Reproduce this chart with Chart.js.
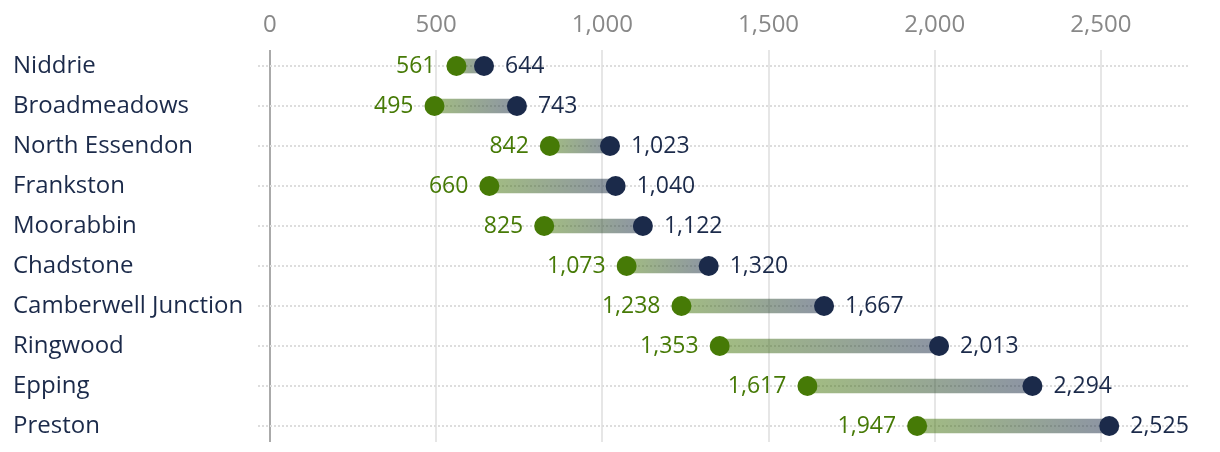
<!DOCTYPE html>
<html>
<head>
<meta charset="utf-8">
<script src="https://cdn.jsdelivr.net/npm/chart.js@4.4.1/dist/chart.umd.min.js"></script>
<style>
  html, body { margin: 0; padding: 0; background: #fff; }
  #wrap { width: 1220px; height: 452px; }
</style>
</head>
<body>
<div id="wrap"><canvas id="chart"></canvas></div>
<script>
const categories = ['Niddrie', 'Broadmeadows', 'North Essendon', 'Frankston', 'Moorabbin',
  'Chadstone', 'Camberwell Junction', 'Ringwood', 'Epping', 'Preston'];
const startValues = [561, 495, 842, 660, 825, 1073, 1238, 1353, 1617, 1947];
const endValues = [644, 743, 1023, 1040, 1122, 1320, 1667, 2013, 2294, 2525];
const xTicks = [0, 500, 1000, 1500, 2000, 2500];

const GREEN = '#467a06';
const NAVY = '#1b2a4a';
const FONT = '"Open Sans"';

// labels next to each end point
const valueLabels = {
  id: 'valueLabels',
  afterDatasetsDraw(chart) {
    const { ctx } = chart;
    ctx.save();
    ctx.font = `23px ${FONT}`;
    ctx.textBaseline = 'middle';
    [1, 2].forEach(di => {
      const meta = chart.getDatasetMeta(di);
      const vals = di === 1 ? startValues : endValues;
      meta.data.forEach((pt, i) => {
        const txt = vals[i].toLocaleString('en-US');
        if (di === 1) {
          ctx.fillStyle = GREEN;
          ctx.textAlign = 'right';
          ctx.fillText(txt, pt.x - 21, pt.y);
        } else {
          ctx.fillStyle = NAVY;
          ctx.textAlign = 'left';
          ctx.fillText(txt, pt.x + 21, pt.y);
        }
      });
    });
    ctx.restore();
  }
};

new Chart(document.getElementById('chart'), {
  data: {
    datasets: [
      {
        type: 'bar',
        indexAxis: 'y',
        data: categories.map((c, i) => ({ y: i, x: [startValues[i], endValues[i]] })),
        barThickness: 14,
        borderSkipped: false,
        backgroundColor: (ctx) => {
          const chart = ctx.chart;
          if (!chart.chartArea || ctx.dataIndex === undefined) return 'rgba(120,140,120,0.5)';
          const xs = chart.scales.x;
          const x0 = xs.getPixelForValue(startValues[ctx.dataIndex]);
          const x1 = xs.getPixelForValue(endValues[ctx.dataIndex]);
          const g = chart.ctx.createLinearGradient(x0, 0, x1, 0);
          g.addColorStop(0, 'rgba(70,122,6,0.5)');
          g.addColorStop(1, 'rgba(27,42,74,0.5)');
          return g;
        },
        order: 3
      },
      {
        type: 'line',
        showLine: false,
        data: categories.map((c, i) => ({ x: startValues[i], y: i })),
        pointRadius: 10,
        pointHoverRadius: 10,
        pointBackgroundColor: GREEN,
        pointBorderWidth: 0,
        order: 2
      },
      {
        type: 'line',
        showLine: false,
        data: categories.map((c, i) => ({ x: endValues[i], y: i })),
        pointRadius: 10,
        pointHoverRadius: 10,
        pointBackgroundColor: NAVY,
        pointBorderWidth: 0,
        order: 1
      }
    ]
  },
  options: {
    responsive: true,
    maintainAspectRatio: false,
    animation: false,
    layout: { padding: { left: 13, right: 32, top: 0, bottom: 10 } },
    plugins: {
      legend: { display: false },
      tooltip: { enabled: false }
    },
    scales: {
      x: {
        type: 'linear',
        position: 'top',
        min: -36,
        max: 2762,
        afterBuildTicks: (scale) => { scale.ticks = xTicks.map(v => ({ value: v })); },
        afterFit: (scale) => { scale.height = 50; },
        border: { display: false },
        grid: {
          drawTicks: false,
          lineWidth: 2,
          color: (ctx) => (ctx.tick && ctx.tick.value === 0 ? '#aaaaaa' : '#e6e6e6')
        },
        ticks: {
          padding: 10,
          color: '#888888',
          font: { family: FONT, size: 24 },
          callback: (v) => v.toLocaleString('en-US')
        }
      },
      y: {
        type: 'linear',
        reverse: true,
        offset: false,
        min: -0.4,
        max: 9.4,
        afterBuildTicks: (scale) => { scale.ticks = categories.map((c, i) => ({ value: i })); },
        afterFit: (scale) => {
          scale.width = 245;
          scale.paddingTop = 0;
          scale.paddingBottom = 0;
        },
        border: { display: false, dash: [2, 2] },
        grid: {
          offset: false,
          drawTicks: false,
          lineWidth: 2,
          color: '#dddddd'
        },
        ticks: {
          crossAlign: 'far',
          color: NAVY,
          font: { family: FONT, size: 24 },
          callback: (v) => categories[v]
        }
      }
    }
  },
  plugins: [valueLabels]
});
</script>
</body>
</html>
